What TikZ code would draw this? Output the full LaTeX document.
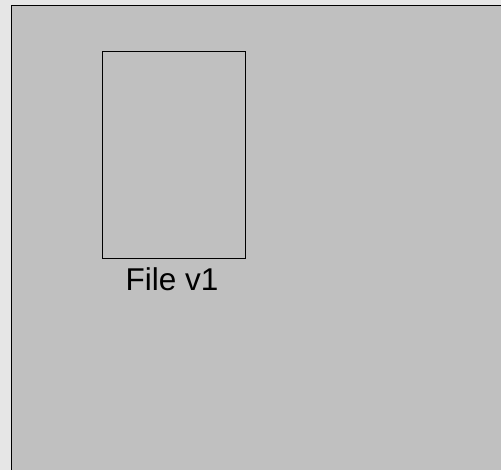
\documentclass[tikz,border=0pt]{standalone}
\usepackage{fontspec}
\setmainfont{Liberation Sans}
\definecolor{outerbg}{HTML}{E6E6E6}
\definecolor{innerbg}{HTML}{C0C0C0}
\begin{document}
\begin{tikzpicture}[x=1pt,y=-1pt,
  filebox/.style={draw=black,line width=1pt,minimum width=143.5pt,minimum height=207pt,inner sep=0pt},
  lbl/.style={font=\fontsize{31.5}{36}\selectfont,inner sep=0pt}]
\useasboundingbox (0,0) rectangle (501,470);
\fill[outerbg] (0,0) rectangle (501,470);
\draw[fill=innerbg,line width=1.4pt] (11.5,5.5) rectangle (503,472);
\node[filebox] (f1) at (173.75,155) {};
\node[lbl,anchor=base] (l1) at (172,290.7) {File v1};
\end{tikzpicture}
\end{document}
